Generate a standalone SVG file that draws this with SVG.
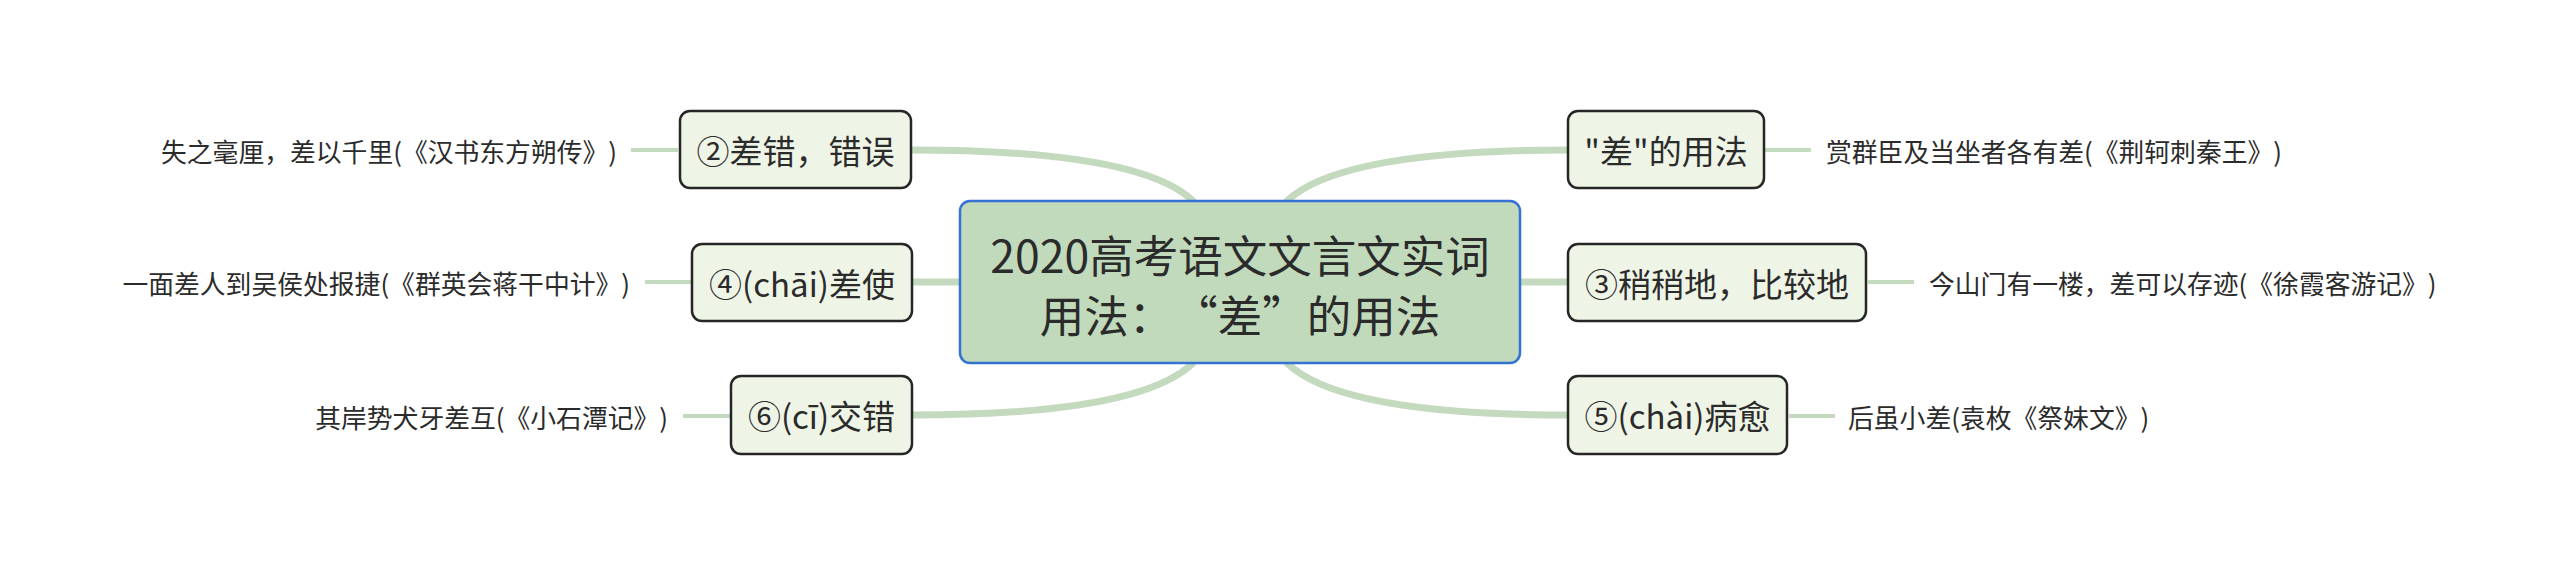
<svg xmlns="http://www.w3.org/2000/svg" width="2560" height="565" viewBox="0 0 2560 565">
<defs>
<style>
text{font-family:"Noto Sans CJK SC","Liberation Sans",sans-serif;fill:#2b2b2b;dominant-baseline:central;text-spacing-trim:space-all;font-feature-settings:"halt" 0,"chws" 0}
.main{fill:none;stroke:#c3dabe;stroke-width:7;stroke-linecap:round}
.leafline{fill:none;stroke:#c3dabe;stroke-width:4}
.node{fill:#eff5e6;stroke:#262626;stroke-width:2.5}
.center{fill:#c1dabc;stroke:#3572d6;stroke-width:2.5}
.nt{font-size:33px;text-anchor:middle}
.ct{font-size:44.5px;text-anchor:middle}
.lt{font-size:25.8px}
.l{text-anchor:end}
</style>
</defs>
<rect width="2560" height="565" fill="#ffffff"/>
<g id="connectors">
<path class="main" d="M911,150 Q1140,150 1193,201"/>
<path class="main" d="M1568,150 Q1340,150 1287,201"/>
<path class="main" d="M912,282 L960,282"/>
<path class="main" d="M1520,282 L1568,282"/>
<path class="main" d="M912,415 Q1140,415 1193,363"/>
<path class="main" d="M1568,415 Q1340,415 1287,363"/>
<path class="leafline" d="M631,150 L678,150"/>
<path class="leafline" d="M645,282 L691,282"/>
<path class="leafline" d="M683,416 L730,416"/>
<path class="leafline" d="M1764,150 L1811,150"/>
<path class="leafline" d="M1868,282 L1914,282"/>
<path class="leafline" d="M1789,416 L1835,416"/>
</g>
<g id="central">
<rect class="center" x="960" y="201" width="560" height="162" rx="10"/>
<text class="ct" x="1240" y="253">2020高考语文文言文实词</text>
<text class="ct" x="1240" y="313">用法：“差”的用法</text>
</g>
<g id="n2">
<rect class="node" x="680" y="111" width="231" height="77" rx="10"/>
<text class="nt" x="795.5" y="149.5">②差错，错误</text>
</g>
<g id="n4">
<rect class="node" x="692" y="244" width="220" height="77" rx="10"/>
<text class="nt" x="802" y="282.5">④(chāi)差使</text>
</g>
<g id="n6">
<rect class="node" x="731" y="376" width="181" height="78" rx="10"/>
<text class="nt" x="821.5" y="415">⑥(cī)交错</text>
</g>
<g id="n1">
<rect class="node" x="1568" y="111" width="196" height="77" rx="10"/>
<text class="nt" x="1666" y="149.5">"差"的用法</text>
</g>
<g id="n3">
<rect class="node" x="1568" y="244" width="298" height="77" rx="10"/>
<text class="nt" x="1717" y="282.5">③稍稍地，比较地</text>
</g>
<g id="n5">
<rect class="node" x="1568" y="376" width="219" height="78" rx="10"/>
<text class="nt" x="1677.5" y="415">⑤(chài)病愈</text>
</g>
<g id="leaf2">
<text class="lt l" x="617" y="150">失之毫厘，差以千里(《汉书东方朔传》)</text>
</g>
<g id="leaf4">
<text class="lt l" x="630" y="282">一面差人到吴侯处报捷(《群英会蒋干中计》)</text>
</g>
<g id="leaf6">
<text class="lt l" x="668" y="416">其岸势犬牙差互(《小石潭记》)</text>
</g>
<g id="leaf1">
<text class="lt" x="1826" y="150">赏群臣及当坐者各有差(《荆轲刺秦王》)</text>
</g>
<g id="leaf3">
<text class="lt" x="1929" y="282">今山门有一楼，差可以存迹(《徐霞客游记》)</text>
</g>
<g id="leaf5">
<text class="lt" x="1848" y="416">后虽小差(袁枚《祭妹文》)</text>
</g>
</svg>
